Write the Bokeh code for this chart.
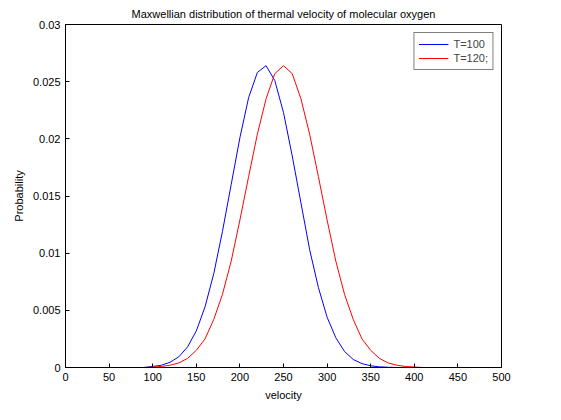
from bokeh.plotting import figure
from bokeh.models import Range1d, Legend, LegendItem
from bokeh.embed import file_html
from bokeh.resources import INLINE

velocity = [0, 10, 20, 30, 40, 50, 60, 70, 80, 90, 100, 110, 120, 130, 140, 150, 160, 170, 180, 190,
            200, 210, 220, 230, 240, 250, 260, 270, 280, 290, 300, 310, 320, 330, 340, 350, 360, 370,
            380, 390, 400, 410, 420, 430, 440, 450, 460, 470, 480, 490, 500]
p_t100 = [0, 0, 0, 0, 0, 0, 0, 0, 0, 0, 0.00009, 0.0002, 0.00046, 0.00094, 0.0018, 0.0032, 0.0053,
          0.0082, 0.0119, 0.016, 0.0201, 0.0236, 0.0258, 0.0264, 0.0251, 0.0223, 0.0185, 0.0144,
          0.0103, 0.007, 0.0044, 0.0026, 0.0014, 0.0007, 0.00034, 0.00015, 0.00006, 0.00002,
          0, 0, 0, 0, 0, 0, 0, 0, 0, 0, 0, 0, 0]
p_t120 = [0, 0, 0, 0, 0, 0, 0, 0, 0, 0, 0.00004, 0.00009, 0.0002, 0.0004, 0.0008, 0.0015, 0.0025,
          0.0042, 0.0064, 0.0093, 0.0129, 0.0167, 0.0204, 0.0235, 0.0257, 0.0264, 0.0257, 0.0235,
          0.0204, 0.0167, 0.0129, 0.0093, 0.0064, 0.0042, 0.0025, 0.0015, 0.0008, 0.0004, 0.0002,
          0.00009, 0.00004, 0, 0, 0, 0, 0, 0, 0, 0, 0, 0]

FONT = "Liberation Sans"

p = figure(title="Maxwellian distribution of thermal velocity of molecular oxygen",
           frame_width=436, frame_height=343, min_border_left=65, min_border_right=36,
           min_border_top=14, min_border_bottom=8,
           x_range=Range1d(0, 500), y_range=Range1d(0, 0.03),
           output_backend="svg", toolbar_location=None)
p.title.align = "center"
p.title.text_font = FONT
p.title.text_font_size = "11px"
p.title.text_font_style = "normal"
p.title.text_color = "black"
p.outline_line_color = "black"
p.outline_line_alpha = 1
p.grid.visible = False

for ax in (p.xaxis[0], p.yaxis[0]):
    ax.major_tick_in = 4
    ax.major_tick_out = 0
    ax.minor_tick_line_color = None
    ax.axis_line_color = "black"
    ax.major_label_text_font = FONT
    ax.major_label_text_font_size = "11px"
    ax.major_label_text_color = "black"
    ax.axis_label_text_font = FONT
    ax.axis_label_text_font_size = "11px"
    ax.axis_label_text_font_style = "normal"
    ax.axis_label_text_color = "black"
p.xaxis.ticker = list(range(0, 501, 50))
p.yaxis.ticker = [0, 0.005, 0.01, 0.015, 0.02, 0.025, 0.03]
p.yaxis.major_label_overrides = {0: "0", 0.005: "0.005", 0.01: "0.01", 0.015: "0.015",
                                 0.02: "0.02", 0.025: "0.025", 0.03: "0.03"}
p.xaxis.axis_label = "velocity"
p.yaxis.axis_label = "Probability"

r1 = p.line(velocity, p_t100, color="blue", line_width=1)
r2 = p.line(velocity, p_t120, color="red", line_width=1)

legend = Legend(items=[LegendItem(label="T=100", renderers=[r1]),
                       LegendItem(label="T=120;", renderers=[r2])],
                location="top_right", label_text_font=FONT, label_text_font_size="11px",
                border_line_color="black", glyph_width=30, spacing=0, padding=4,
                label_height=14, glyph_height=14, margin=8)
p.add_layout(legend)

open("out.html", "w").write(file_html(p, INLINE))
